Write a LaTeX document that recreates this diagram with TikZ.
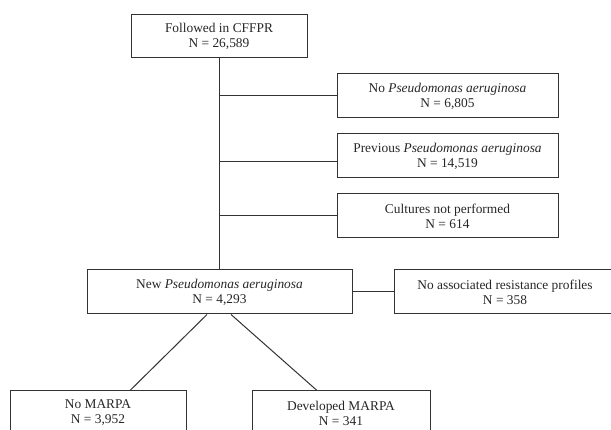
\documentclass[tikz,border=0pt]{standalone}
\usepackage{fontspec}
\setmainfont{Liberation Serif}
\usepackage{tikz}
\usetikzlibrary{calc}
\newcommand{\pa}{\textit{Pseudomonas aeruginosa}}
\tikzset{
  flowbox/.style={draw=black!80, line width=1pt, align=center, inner sep=0pt,
    text=black!85, font=\fontsize{13.4}{15}\selectfont},
  flowline/.style={draw=black!80, line width=1pt}
}

\begin{document}
\begin{tikzpicture}[x=1pt, y=-1pt]
        \useasboundingbox (0,0) rectangle (611,430);
        %boxes
        \node[flowbox, minimum width=176, minimum height=43] (cffpr) at (219,36.5) {Followed in CFFPR\\N = 26,589};
        \node[flowbox, minimum width=221, minimum height=44] (nopa) at (447.5,96) {No \pa\\N = 6,805};
        \node[flowbox, minimum width=221, minimum height=44] (prevpa) at (447.5,156) {Previous \pa\\N = 14,519};
        \node[flowbox, minimum width=221, minimum height=44] (nocult) at (447.5,216) {Cultures not performed\\N = 614};
        \node[flowbox, minimum width=265, minimum height=44] (newpa) at (219.5,292) {New \pa\\N = 4,293};
        \node[flowbox, minimum width=222, minimum height=44] (nores) at (505,292) {No associated resistance profiles\\N = 358};
        \node[flowbox, minimum width=176, minimum height=44] (nomarpa) at (98,413) {No MARPA\\N = 3,952};
        \node[flowbox, minimum width=178, minimum height=44] (devmarpa) at (341,413) {Developed MARPA\\N = 341};

        %trunk and branches
        \draw[flowline] (cffpr.south) -- (cffpr.south |- newpa.north);
        \coordinate (j1) at (cffpr.south |- nopa.west);
        \coordinate (j2) at ($(cffpr.south |- prevpa.west)+(0,6)$);
        \coordinate (j3) at (cffpr.south |- nocult.west);
        \draw[flowline] (j1) -- (nopa.west);
        \draw[flowline] (j2) -- (j2 -| prevpa.west);
        \draw[flowline] (j3) -- (nocult.west);
        \draw[flowline] (newpa.east) -- (nores.west);
        \draw[flowline] ([xshift=-12.5]newpa.south) -- ([xshift=32]nomarpa.north);
        \draw[flowline] ([xshift=11.5]newpa.south) -- ([xshift=-24]devmarpa.north);
    \end{tikzpicture}
\end{document}
